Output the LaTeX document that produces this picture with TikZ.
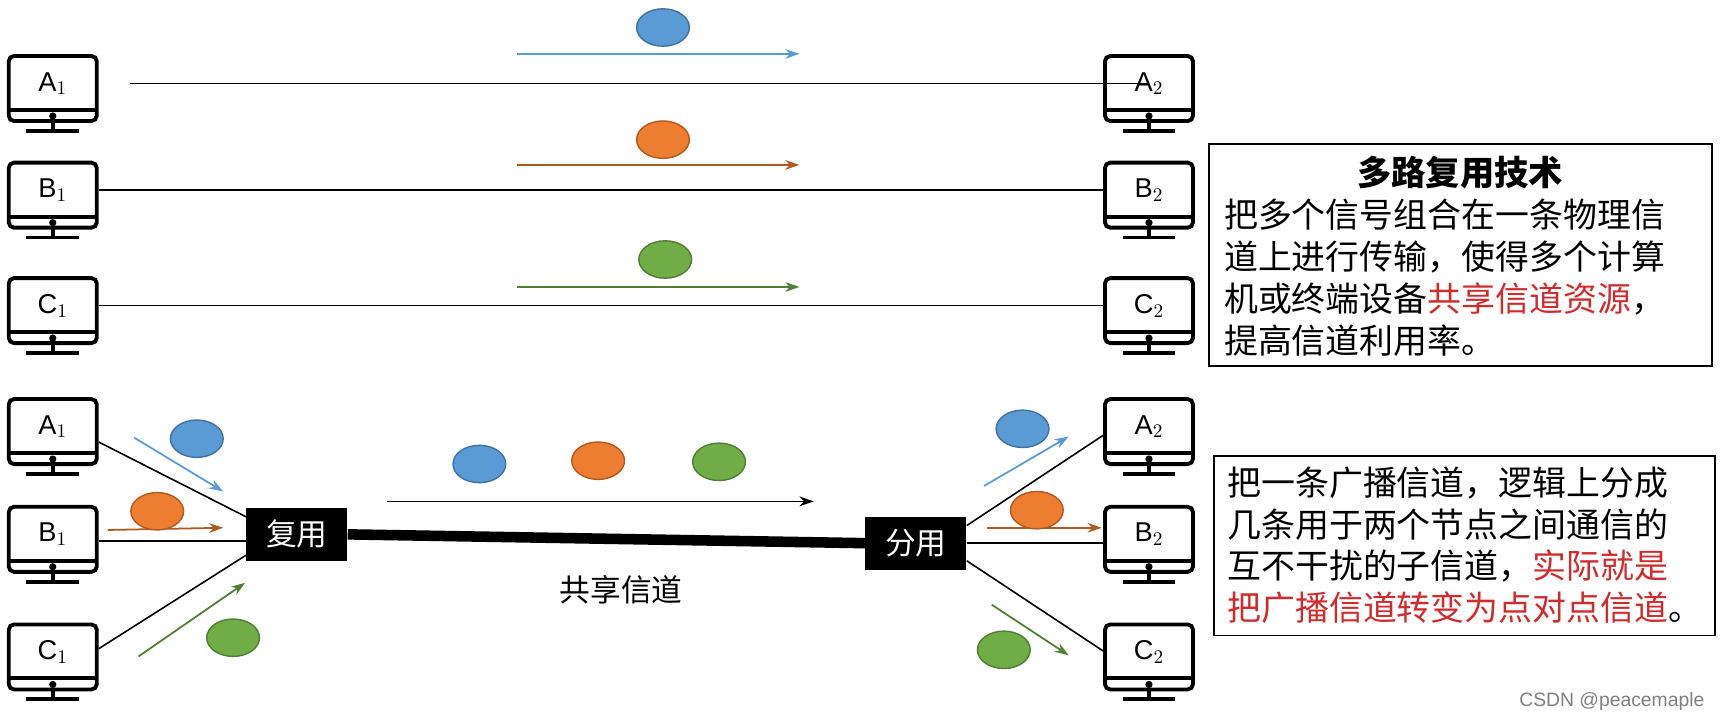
\documentclass[tikz,border=0pt]{standalone}
\usepackage{fontspec}
\setmainfont{Liberation Sans}
\newfontfamily\cjk{Noto Sans CJK SC}
\usetikzlibrary{arrows.meta}
\definecolor{cb}{HTML}{5B9BD5}\definecolor{cbd}{HTML}{41719C}
\definecolor{co}{HTML}{ED7D31}\definecolor{cod}{HTML}{AE5A21}
\definecolor{cg}{HTML}{70AD47}\definecolor{cgd}{HTML}{507E32}
\definecolor{cred}{HTML}{D22B2B}
\tikzset{
 mon/.style={draw,line width=2.2pt,rounded corners=3pt,minimum width=1.76cm,minimum height=1.3cm,inner sep=0pt},
 monlab/.style={font=\fontsize{15.5}{18}\selectfont,inner sep=0pt},
 sig/.style={-{Stealth[length=8pt,width=5.5pt]},line width=1pt},
 muxbox/.style={fill=black,text=white,font=\cjk\fontsize{17.5}{20}\selectfont,minimum width=2.02cm,minimum height=1.06cm,inner sep=0pt},
 txt/.style={font=\cjk\fontsize{19.3}{23.8}\selectfont,align=left,inner sep=0pt},
 tbox/.style={draw,line width=1.1pt,fill=white}
}
\newcommand\mymon[4]{%
 \node[mon] (#1) at (#2,#3+0.5) {};
 \node[monlab] (#1l) at (#2,#3-4) {#4};
 \draw[line width=2.2pt] (#2-40,#3+20) -- (#2+40,#3+20);
 \fill (#2,#3+25.5) circle (3.3);
 \draw[line width=2.2pt] (#2,#3+30) -- (#2,#3+39);
 \draw[line width=2.2pt] (#2-24,#3+39) -- (#2+24,#3+39);
}
\begin{document}
\begin{tikzpicture}[x=0.021990cm,y=-0.021990cm]
\useasboundingbox (0,0) rectangle (1568,658.5);
\fill[white] (0,0) rectangle (1568,658.5);
% top part
\mymon{ta1}{48}{80}{A$_1$}
\mymon{tb1}{48}{177}{B$_1$}
\mymon{tc1}{48}{282}{C$_1$}
\mymon{ta2}{1045}{80}{A$_2$}
\mymon{tb2}{1045}{177}{B$_2$}
\mymon{tc2}{1045}{282}{C$_2$}
\coordinate (ls) at (118,76);
\draw[line width=0.9pt] (ls) -- (ta2l.center);
\draw[line width=0.9pt] (tb1.east|-0,173) -- (tb2.west|-0,173);
\draw[line width=0.9pt] (tc1.east|-0,278) -- (tc2.west|-0,278);
\coordinate (s1) at (470,49); \coordinate (e1) at (727,49);
\coordinate (s2) at (470,150); \coordinate (e2) at (727,150);
\coordinate (s3) at (470,261); \coordinate (e3) at (727,261);
\draw[sig,cb] (s1) -- (e1);
\draw[sig,cod] (s2) -- (e2);
\draw[sig,cgd] (s3) -- (e3);
\fill[cb,draw=cbd,line width=0.8pt] (603,25) ellipse (24 and 17);
\fill[co,draw=cod,line width=0.8pt] (603,127) ellipse (24 and 17);
\fill[cg,draw=cgd,line width=0.8pt] (605,236) ellipse (24 and 17);
% bottom part
\mymon{ba1}{48}{392}{A$_1$}
\mymon{bb1}{48}{490}{B$_1$}
\mymon{bc1}{48}{597}{C$_1$}
\mymon{ba2}{1045}{392}{A$_2$}
\mymon{bb2}{1045}{490}{B$_2$}
\mymon{bc2}{1045}{597}{C$_2$}
\node[muxbox] (mux) at (270,486) {复用};
\node[muxbox] (demux) at (833,494) {分用};
\draw[line width=6pt] (mux.east) -- (demux.west);
\draw[line width=0.9pt] (ba1.east|-0,402) -- (mux.west|-0,470);
\draw[line width=0.9pt] (bb1.east|-0,492) -- (mux.west|-0,492);
\draw[line width=0.9pt] (bc1.east|-0,590) -- (mux.west|-0,505);
\draw[line width=0.9pt] (demux.east|-0,478) -- (ba2.west|-0,396);
\draw[line width=0.9pt] (demux.east|-0,494) -- (bb2.west|-0,494);
\draw[line width=0.9pt] (demux.east|-0,510) -- (bc2.west|-0,592);
\draw[sig,cb] (122,398) -- (203,447);
\draw[sig,cod] (98,482) -- (203,480);
\draw[sig,cgd] (126,597) -- (223,530);
\fill[cb,draw=cbd,line width=0.8pt] (179,399) ellipse (24 and 17);
\fill[co,draw=cod,line width=0.8pt] (143,465) ellipse (24 and 17);
\fill[cg,draw=cgd,line width=0.8pt] (212,580) ellipse (24 and 17);
\draw[sig,black] (352,456) -- (740,456);
\fill[cb,draw=cbd,line width=0.8pt] (436,422) ellipse (24 and 17);
\fill[co,draw=cod,line width=0.8pt] (544,419) ellipse (24 and 17);
\fill[cg,draw=cgd,line width=0.8pt] (654,420) ellipse (24 and 17);
\draw[sig,cb] (895,442) -- (972,397);
\draw[sig,cod] (898,480) -- (1002,480);
\draw[sig,cgd] (902,550) -- (972,596);
\fill[cb,draw=cbd,line width=0.8pt] (930,390) ellipse (24 and 17);
\fill[co,draw=cod,line width=0.8pt] (943,464) ellipse (24 and 17);
\fill[cg,draw=cgd,line width=0.8pt] (913,591) ellipse (24 and 17);
\node[font=\cjk\fontsize{17.5}{20}\selectfont] (sc) at (565,536) {共享信道};
% text boxes
\draw[tbox] (1100,131) rectangle (1557,333);
\node[font=\cjk\bfseries\fontsize{19.5}{22}\selectfont] (t1) at (1328,157) {多路复用技术};
\node[txt,anchor=north west] (t1b) at (1113,181) {把多个信号组合在一条物理信\\道上进行传输，使得多个计算\\机或终端设备\textcolor{cred}{共享信道资源}，\\提高信道利用率。};
\draw[tbox] (1104,415) rectangle (1560,578);
\node[txt,anchor=north west] (t2) at (1116,424) {把一条广播信道，逻辑上分成\\几条用于两个节点之间通信的\\互不干扰的子信道，\textcolor{cred}{实际就是}\\\textcolor{cred}{把广播信道转变为点对点信道}。};
\node[font=\fontsize{11}{13}\selectfont,text=gray] (wm) at (1466,638) {CSDN @peacemaple};
\end{tikzpicture}
\end{document}
